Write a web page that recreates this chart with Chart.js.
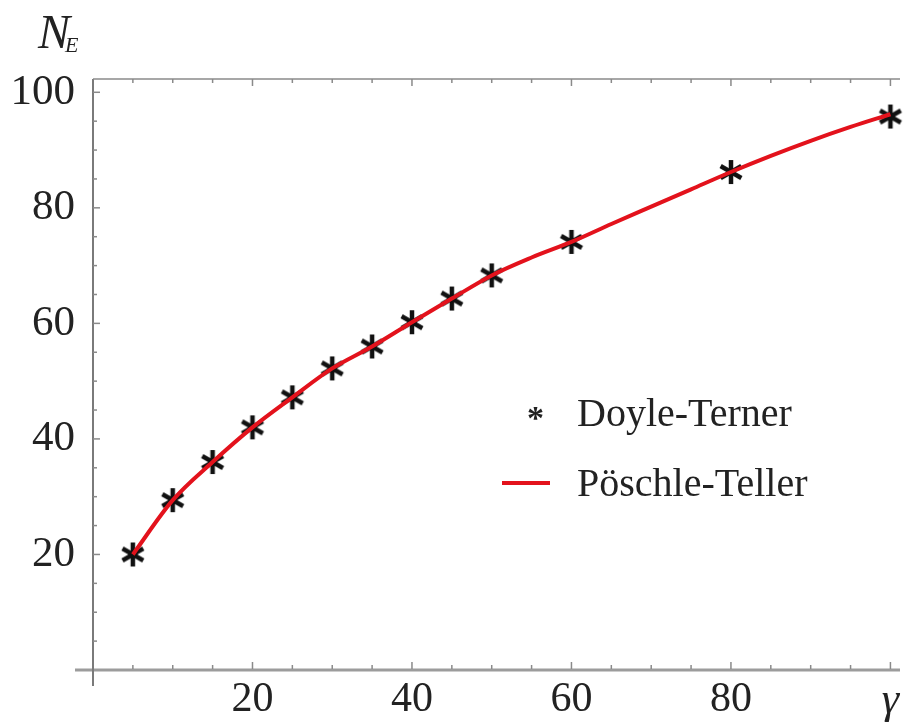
<!DOCTYPE html>
<html lang="en">
<head>
  <meta charset="UTF-8">
  <title>N_E vs gamma</title>
  <script src="https://cdn.jsdelivr.net/npm/chart.js"></script>
  <style>
    html, body { margin: 0; padding: 0; background: #fff; }
    .wrap { position: relative; width: 913px; height: 724px; }
    .txt { position: absolute; font-family: 'Liberation Serif', 'Times New Roman', serif; color: #222; white-space: nowrap; }
    .lbl { font-size: 40px; line-height: 40px; }
    .ne { font-size: 48px; line-height: 48px; font-style: italic; }
    .ne sub { font-size: 22px; vertical-align: -4px; margin-left: -5px; }
    .redline { position: absolute; background: #e3121c; }
  </style>
</head>
<body>
<div class="wrap">
  <canvas id="chart" width="913" height="724"></canvas>
  <div class="txt ne" style="left:38px; top:8px">N<sub>E</sub></div>
  <div class="txt lbl" style="left:527px; top:398px; font-size:34px; font-weight:bold">*</div>
  <div class="txt lbl" style="left:577px; top:393px">Doyle-Terner</div>
  <div class="redline" style="left:502px; top:481px; width:48px; height:4px"></div>
  <div class="txt lbl" style="left:577px; top:463px">Pöschle-Teller</div>
</div>

<script>
  // Doyle-Terner points (stars)
  const gammaDT = [5, 10, 15, 20, 25, 30, 35, 40, 45, 50, 60, 80, 100];
  const neDT = [20, 29.4, 36, 42, 47.2, 52.2, 56, 60.2, 64.3, 68.3, 74.1, 86.2, 95.8];

  // Pöschle-Teller curve
  const gammaPT = [5, 10, 15, 20, 25, 30, 35, 40, 45, 50, 55, 60, 65, 70, 75, 80, 85, 90, 95, 100];
  const nePT = [20, 29.4, 36, 42, 47.2, 52.2, 56, 60.2, 64.3, 68.3, 71.4, 74.1, 77.2, 80.2, 83.2, 86.2, 89.0, 91.6, 94.0, 96.2];

  // tick positions (every 5) and the ones that carry a label
  const tickSteps = [0, 5, 10, 15, 20, 25, 30, 35, 40, 45, 50, 55, 60, 65, 70, 75, 80, 85, 90, 95, 100];
  const yLabels = [20, 40, 60, 80, 100];
  const xLabels = [20, 40, 60, 80];

  const serif = 'Liberation Serif';

  // six-armed asterisk used as point style
  function asterisk() {
    const c = document.createElement('canvas');
    c.width = 28; c.height = 28;
    const g = c.getContext('2d');
    g.strokeStyle = '#111';
    g.lineWidth = 4.5;
    for (let i = 0; i < 3; i++) {
      const a = Math.PI / 2 + i * Math.PI / 3;
      g.beginPath();
      g.moveTo(14 + 12 * Math.cos(a), 14 + 12 * Math.sin(a));
      g.lineTo(14 - 12 * Math.cos(a), 14 - 12 * Math.sin(a));
      g.stroke();
    }
    return c;
  }

  function seg(ctx, x1, y1, x2, y2) {
    ctx.beginPath();
    ctx.moveTo(x1, y1);
    ctx.lineTo(x2, y2);
    ctx.stroke();
  }

  // Mathematica style axes: frame on top, ticks pointing inward
  const axesPlugin = {
    id: 'mmaAxes',
    beforeDatasetsDraw(chart) {
      const { ctx, chartArea: a, scales: { x, y } } = chart;
      ctx.save();
      ctx.strokeStyle = '#9c9c9c';
      ctx.lineWidth = 3;
      seg(ctx, 75, a.bottom, a.right, a.bottom);
      ctx.strokeStyle = '#7a7a7a';
      ctx.lineWidth = 2;
      seg(ctx, a.left, a.top, a.left, a.bottom + 16);
      ctx.strokeStyle = '#8a8a8a';
      ctx.lineWidth = 1.5;
      seg(ctx, a.left, a.top, a.right, a.top);

      ctx.lineWidth = 1.5;
      x.ticks.forEach(t => {
        if (t.value <= 0) return;
        const px = x.getPixelForValue(t.value);
        const len = t.value % 20 === 0 ? 7 : 4;
        seg(ctx, px, a.bottom - 1, px, a.bottom - 1 - len);
        seg(ctx, px, a.top, px, a.top + len);
      });
      y.ticks.forEach(t => {
        if (t.value <= 0) return;
        const py = y.getPixelForValue(t.value);
        const len = t.value % 20 === 0 ? 7 : 4;
        seg(ctx, a.left, py, a.left + len, py);
      });
      ctx.restore();
    }
  };

  const setTicks = s => { s.ticks = tickSteps.map(v => ({ value: v })); };

  new Chart(document.getElementById('chart'), {
    type: 'scatter',
    data: {
      datasets: [
        {
          label: 'Pöschle-Teller',
          type: 'line',
          data: gammaPT.map((g, i) => ({ x: g, y: nePT[i] })),
          borderColor: '#e3121c',
          borderWidth: 4,
          pointRadius: 0,
          cubicInterpolationMode: 'monotone',
          clip: false
        },
        {
          label: 'Doyle-Terner',
          data: gammaDT.map((g, i) => ({ x: g, y: neDT[i] })),
          pointStyle: asterisk(),
          pointRadius: 12,
          clip: false
        }
      ]
    },
    options: {
      responsive: false,
      animation: false,
      layout: { padding: { top: 79, left: 0, right: 0, bottom: 0 } },
      plugins: { legend: { display: false }, tooltip: { enabled: false } },
      scales: {
        x: {
          type: 'linear',
          min: 0,
          max: 101.2,
          afterBuildTicks: setTicks,
          afterFit: s => { s.height = 54; },
          grid: { display: false, drawTicks: false },
          border: { display: false },
          ticks: {
            autoSkip: false,
            maxRotation: 0,
            padding: 5,
            color: '#222',
            font: ctx => ({ family: serif, size: ctx.tick && ctx.tick.value === 100 ? 44 : 42, style: ctx.tick && ctx.tick.value === 100 ? 'italic' : 'normal' }),
            callback: v => v === 100 ? 'γ' : (xLabels.includes(v) ? String(v) : '')
          }
        },
        y: {
          min: 0,
          max: 102.3,
          afterBuildTicks: setTicks,
          afterFit: s => { s.width = 93; },
          grid: { display: false, drawTicks: false },
          border: { display: false },
          ticks: {
            autoSkip: false,
            padding: 18,
            color: '#222',
            font: { family: serif, size: 43 },
            callback: v => yLabels.includes(v) ? String(v) : ''
          }
        }
      }
    },
    plugins: [axesPlugin]
  });
</script>
</body>
</html>
